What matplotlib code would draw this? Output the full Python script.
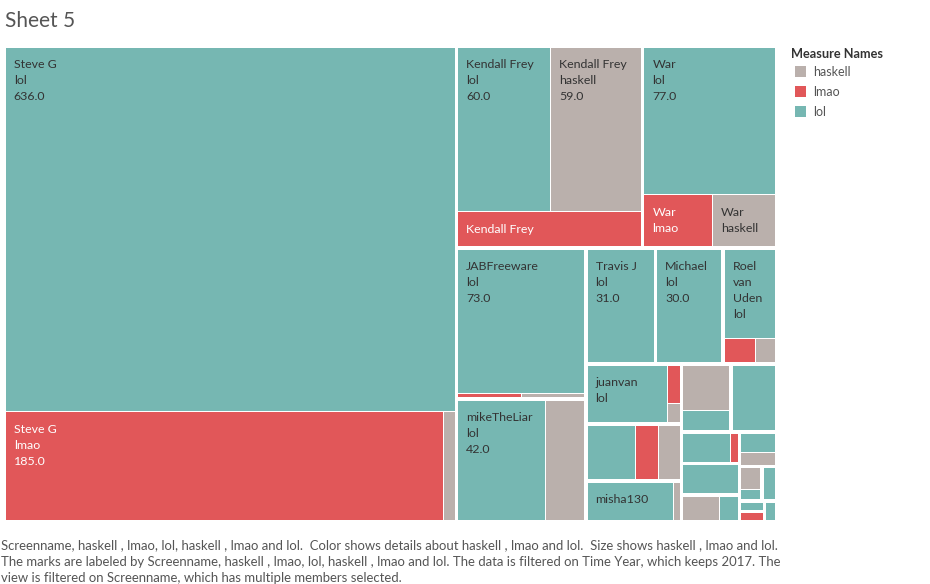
import matplotlib
matplotlib.use("Agg")
import matplotlib.pyplot as plt
from matplotlib.patches import Rectangle
from matplotlib.font_manager import FontProperties

# ---------------- data ----------------
screennames = ["Steve G", "Kendall Frey", "War", "JABFreeware", "mikeTheLiar",
               "Travis J", "Michael", "Roel van Uden", "juanvan", "", "misha130",
               "", "", "", "", "", "", "", "", "", "", ""]
lol = [636, 60, 77, 73, 42, 31, 30, 19, 19, 11, 14, 4, 12, 6, 7, 2, 3, 1, 2, 1, 0, 1]
lmao = [185, 25, 14, 1, 0, 0, 0, 3, 2, 5, 0, 0, 0, 1, 0, 0, 0, 0, 0, 0, 1, 0]
haskell = [5, 59, 13, 1, 19, 0, 0, 2, 1, 5, 1, 9, 0, 0, 0, 4, 2, 2, 0, 0, 0, 0]

measures = ["lol", "lmao", "haskell"]
legend_order = ["haskell", "lmao", "lol"]
colors = {"haskell": "#BAB0AC", "lmao": "#E15759", "lol": "#76B7B2"}
text_colors = {"haskell": "#333333", "lmao": "#FFFFFF", "lol": "#333333"}

title = "Sheet 5"
footer = [
    "Screenname, haskell , lmao, lol, haskell , lmao and lol.  Color shows details about haskell , lmao and lol.  Size shows haskell , lmao and lol.",
    "The marks are labeled by Screenname, haskell , lmao, lol, haskell , lmao and lol. The data is filtered on Time Year, which keeps 2017. The",
    "view is filtered on Screenname, which has multiple members selected.",
]

FONT = "Lato"


# ---------------- treemap layout ----------------
def worst(row, length):
    s = sum(row)
    return max(max(length * length * r / (s * s), s * s / (length * length * r)) for r in row)


def squarify(vals, x, y, w, h, thresh=3.0):
    total = float(sum(vals))
    scale = w * h / total
    areas = [v * scale for v in vals]
    rects = []
    i, n = 0, len(areas)
    while i < n:
        if i == n - 1:
            rects.append((x, y, w, h))
            break
        vertical = w >= h
        length = h if vertical else w
        row = [areas[i]]
        cur = worst(row, length)
        j = i + 1
        while j < n:
            cand = worst(row + [areas[j]], length)
            if cand <= cur or cand <= thresh:
                row.append(areas[j])
                cur = cand
                j += 1
            else:
                break
        s = sum(row)
        if vertical:
            cw = s / length
            cy = y
            for a in row:
                rh = a / cw
                rects.append((x, cy, cw, rh))
                cy += rh
            x += cw
            w -= cw
        else:
            rh = s / length
            cx = x
            for a in row:
                rw = a / rh
                rects.append((cx, y, rw, rh))
                cx += rw
            y += rh
            h -= rh
        i = j
    return rects


# ---------------- figure ----------------
W_PX, H_PX = 930, 584
fig = plt.figure(figsize=(W_PX / 100, H_PX / 100), dpi=100)
fig.patch.set_facecolor("white")

PX0, PX1, PY0, PY1 = 4.0, 777.0, 46.0, 522.0
aw, ah = PX1 - PX0, PY1 - PY0
ax = fig.add_axes([PX0 / W_PX, 1 - PY1 / H_PX, aw / W_PX, ah / H_PX])
ax.set_xlim(0, aw)
ax.set_ylim(ah, 0)
ax.axis("off")

renderer = fig.canvas.get_renderer()
FS = 8.9
prop = FontProperties(family=FONT, size=FS)


def text_w(s):
    w, _, _ = renderer.get_text_width_height_descent(s, prop, ismath=False)
    return w


def wrap(name, avail):
    words = name.split()
    lines, cur = [], ""
    for wd in words:
        if text_w(wd) > avail:
            return None
        trial = wd if not cur else cur + " " + wd
        if text_w(trial) <= avail:
            cur = trial
        else:
            lines.append(cur)
            cur = wd
    if cur:
        lines.append(cur)
    return lines


totals = [a + b + c for a, b, c in zip(lol, lmao, haskell)]
order = sorted(range(len(totals)), key=lambda k: -totals[k])
grects = squarify([totals[k] for k in order], 0, 0, aw, ah)

GG = 1.25   # half gap between groups
IG = 0.5    # half gap between items
LINE = 16.2
for k, (gx, gy, gw, gh) in zip(order, grects):
    gx, gy, gw, gh = gx + GG, gy + GG, gw - 2 * GG, gh - 2 * GG
    vals = {"lol": lol[k], "lmao": lmao[k], "haskell": haskell[k]}
    items = [m for m in measures if vals[m] > 0]
    items = sorted(items, key=lambda m: -vals[m])
    irects = squarify([vals[m] for m in items], gx, gy, gw, gh)
    for m, (x, y, w, h) in zip(items, irects):
        x, y, w, h = x + IG, y + IG, w - 2 * IG, h - 2 * IG
        ax.add_patch(Rectangle((x, y), w, h, facecolor=colors[m], edgecolor="none", linewidth=0))
        name = screennames[k]
        if not name:
            continue
        avail = w - 8.5 - 3
        nl = wrap(name, avail)
        if not nl:
            continue
        lines = nl + [m, f"{vals[m]:.1f}"]
        shown = []
        for i, ln in enumerate(lines):
            if y + 16.5 + LINE * i + 11 <= y + h and text_w(ln) <= avail:
                shown.append(ln)
            else:
                break
        for i, ln in enumerate(shown):
            ax.text(x + 8.0, y + 16.8 + LINE * i, ln, fontsize=FS, family=FONT,
                    color=text_colors[m], ha="left", va="center")

# overlay for title, legend, footer (pixel coordinates)
ov = fig.add_axes([0, 0, 1, 1], facecolor="none")
ov.set_xlim(0, W_PX)
ov.set_ylim(H_PX, 0)
ov.axis("off")

ov.text(5, 21, title, fontsize=15, family=FONT, color="#555555", ha="left", va="center")

ov.text(791, 54, "Measure Names", fontsize=9.2, family=FONT, color="#333333",
        ha="left", va="center", fontweight="bold")
for i, m in enumerate(legend_order):
    cy = 71.5 + 20 * i
    ov.add_patch(Rectangle((795, cy - 5.5), 11, 11, facecolor=colors[m], edgecolor="none"))
    ov.text(813, cy, m, fontsize=9.0, family=FONT, color="#555555", ha="left", va="center")

for i, ln in enumerate(footer):
    ov.text(0.5, 545.5 + 16.5 * i, ln, fontsize=9.45, family=FONT, color="#555555",
            ha="left", va="center")

fig.savefig("out.png", dpi=100, facecolor="white")
